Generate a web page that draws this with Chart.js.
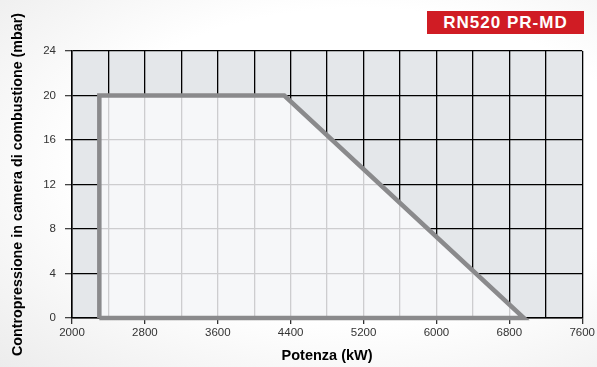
<!DOCTYPE html>
<html>
<head>
<meta charset="utf-8">
<script src="https://cdn.jsdelivr.net/npm/chart.js@4"></script>
<style>
  html, body { margin: 0; padding: 0; }
  body {
    width: 597px; height: 367px; overflow: hidden; position: relative;
    background: radial-gradient(ellipse at 60% 45%, #ffffff 55%, #ececec 100%);
    font-family: "Liberation Sans", Arial, sans-serif;
  }
  #wrap { position: absolute; left: 0; top: 0; width: 597px; height: 367px; }
  #badge {
    position: absolute; left: 427px; top: 11px; width: 157px; height: 23px;
    background: #d01c24; color: #fff; font-weight: bold; font-size: 17px;
    letter-spacing: 1px; line-height: 23px; text-align: center;
  }
</style>
</head>
<body>
<div id="wrap"><canvas id="grafico" width="597" height="367"></canvas></div>
<div id="badge">RN520 PR-MD</div>
<script>
// campo di lavoro del bruciatore
var potenza = [2300, 2300, 4330, 6960, 2300];
var pressione = [0, 20, 20, 0, 0];

var xMin = 2000, xMax = 7600, xPasso = 400, xEtichetta = 800;
var yMin = 0, yMax = 24, yPasso = 4;

var sfondoArea = {
    id: 'sfondoArea',
    beforeDraw: function(chart) {
        var a = chart.chartArea;
        var ctx = chart.ctx;
        ctx.save();
        ctx.fillStyle = '#e4e7ea';
        ctx.fillRect(a.left, a.top, a.right - a.left, a.bottom - a.top);
        ctx.restore();
    }
};

var punti = potenza.map(function(p, i) { return { x: p, y: pressione[i] }; });

var ctx = document.getElementById('grafico');
var chart = new Chart(ctx, {
    type: 'scatter',
    data: {
        datasets: [{
            data: punti,
            showLine: true,
            fill: 'shape',
            backgroundColor: 'rgba(250, 250, 252, 0.82)',
            borderColor: '#8a8a8c',
            borderWidth: 4.5,
            pointRadius: 0,
            tension: 0,
            clip: false
        }]
    },
    options: {
        responsive: false,
        animation: false,
        layout: { padding: { top: 51, right: 13, bottom: 2, left: 0 } },
        plugins: {
            legend: { display: false },
            tooltip: { enabled: false }
        },
        scales: {
            x: {
                type: 'linear',
                min: xMin,
                max: xMax,
                afterFit: function(scale) { scale.height = 47; },
                border: { color: '#000', width: 1.5 },
                grid: {
                    color: '#000',
                    lineWidth: 1.3,
                    tickLength: 6,
                    tickColor: function(c) {
                        return (c.tick.value - xMin) % xEtichetta === 0 ? '#333' : 'rgba(0,0,0,0)';
                    }
                },
                ticks: {
                    stepSize: xPasso,
                    autoSkip: false,
                    maxRotation: 0,
                    padding: 2,
                    color: '#333',
                    font: { family: '"Liberation Sans", Arial, sans-serif', size: 11.5 },
                    callback: function(v) {
                        return (v - xMin) % xEtichetta === 0 ? String(v) : '';
                    }
                },
                title: {
                    display: true,
                    text: 'Potenza (kW)',
                    color: '#000',
                    padding: { top: 5, bottom: 0 },
                    font: { family: '"Liberation Sans", Arial, sans-serif', size: 14.5, weight: 'bold' }
                }
            },
            y: {
                type: 'linear',
                min: yMin,
                max: yMax,
                afterFit: function(scale) { scale.width = 72; },
                border: { color: '#000', width: 1.5 },
                grid: {
                    color: '#000',
                    lineWidth: 1.3,
                    tickLength: 7,
                    tickColor: '#444'
                },
                ticks: {
                    stepSize: yPasso,
                    padding: 9,
                    color: '#333',
                    font: { family: '"Liberation Sans", Arial, sans-serif', size: 11.5 }
                },
                title: {
                    display: true,
                    text: 'Contropressione in camera di combustione (mbar)',
                    color: '#000',
                    padding: { top: 9, bottom: 0 },
                    font: { family: '"Liberation Sans", Arial, sans-serif', size: 14.3, weight: 'bold' }
                }
            }
        }
    },
    plugins: [sfondoArea]
});
</script>
</body>
</html>
